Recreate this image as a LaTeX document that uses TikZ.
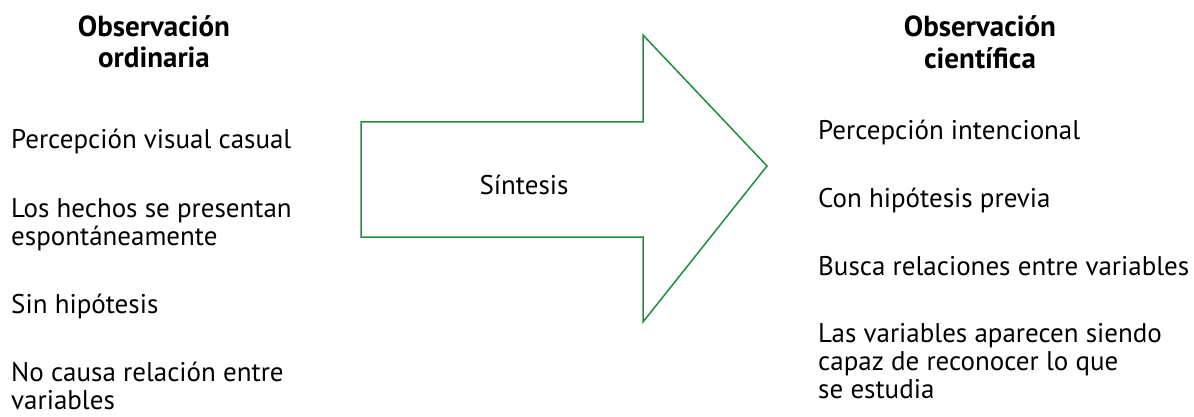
\documentclass[tikz,border=0pt]{standalone}
\usepackage{fontspec}
\setmainfont{PT Sans}
\definecolor{arrowgreen}{RGB}{30,142,62}
\begin{document}
\begin{tikzpicture}[x=1pt,y=-1pt,
  txt/.style={anchor=base west,inner sep=0pt,font=\fontsize{27}{28}\selectfont},
  head/.style={anchor=base,inner sep=0pt,font=\fontsize{29}{31}\selectfont\bfseries},
  bigarrow/.style={draw=arrowgreen,line width=1.5pt,line join=miter}]
\useasboundingbox (0,0) rectangle (1194,417);

% column headings
\node[head] (h1a) at (154,37) {Observación};
\node[head] (h1b) at (154,68) {ordinaria};
\node[head] (h2a) at (980,37) {Observación};
\node[head] (h2b) at (980,69) {científica};

% left column
\node[txt] (l1)  at (11,149) {Percepción visual casual};
\node[txt] (l2a) at (11,217) {Los hechos se presentan};
\node[txt] (l2b) at (11,245) {espontáneamente};
\node[txt] (l3)  at (11,313) {Sin hipótesis};
\node[txt] (l4a) at (11,381) {No causa relación entre};
\node[txt] (l4b) at (11,409) {variables};

% right column
\node[txt] (r1)  at (818,140) {Percepción intencional};
\node[txt] (r2)  at (818,207) {Con hipótesis previa};
\node[txt] (r3)  at (818,275) {Busca relaciones entre variables};
\node[txt] (r4a) at (818,342) {Las variables aparecen siendo};
\node[txt] (r4b) at (818,370) {capaz de reconocer lo que};
\node[txt] (r4c) at (818,398) {se estudia};

% block arrow
\draw[bigarrow] (361,122) -- (643,122) -- (643,35) -- (767,166)
  -- (643,322) -- (643,237) -- (361,237) -- cycle;
\node[txt,anchor=base] (syn) at (524,194) {Síntesis};
\end{tikzpicture}
\end{document}
